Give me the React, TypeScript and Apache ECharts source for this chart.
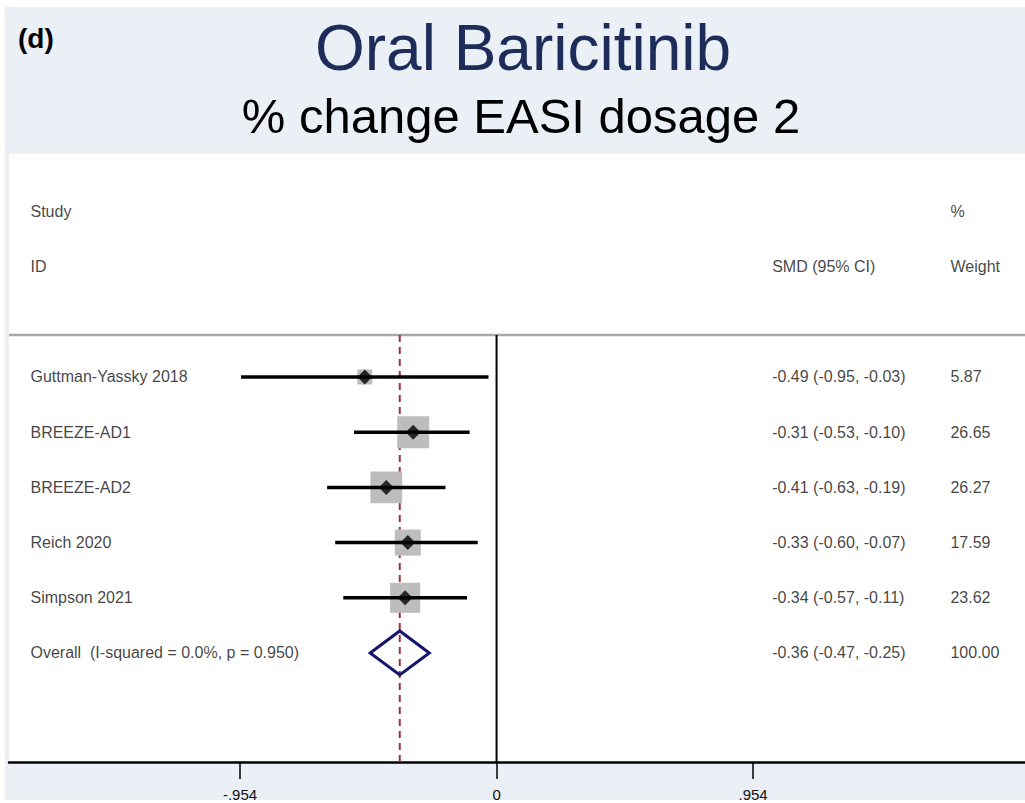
import React, { useEffect, useRef } from 'react';
import * as echarts from 'echarts';

// ---- data ----
const studies = ['Guttman-Yassky 2018', 'BREEZE-AD1', 'BREEZE-AD2', 'Reich 2020', 'Simpson 2021'];
const smd = [-0.49, -0.31, -0.41, -0.33, -0.34];
const lower = [-0.95, -0.53, -0.63, -0.60, -0.57];
const upper = [-0.03, -0.10, -0.19, -0.07, -0.11];
const weights = [5.87, 26.65, 26.27, 17.59, 23.62];
const overallLabel = 'Overall  (I-squared = 0.0%, p = 0.950)';
const overallSMD = -0.36;
const overallLower = -0.47;
const overallUpper = -0.25;
const overallWeight = 100.0;
const tickValues = [-0.954, 0, 0.954];
const tickLabels = ['-.954', '0', '.954'];
const headerStudy = ['Study', 'ID'];
const headerSMD = ['', 'SMD (95% CI)'];
const headerWeight = ['%', 'Weight'];

// ---- layout constants ----
const X_MIN = -1.813;
const X_MAX = 1.965;
const Y_MIN = -4.04;
const Y_MAX = 6.975;
const SEP_K = -0.761;
const COL_LABEL = -1.735;
const COL_SMD = 1.023;
const COL_WEIGHT = 1.686;
const FONT = '"Liberation Sans", Arial, Helvetica, sans-serif';

const fmt = (v: number) => v.toFixed(2);

export default function App() {
  const ref = useRef<HTMLDivElement>(null);

  useEffect(() => {
    if (!ref.current) return;
    const chart = echarts.init(ref.current, undefined, { renderer: 'svg' });

    const overallK = studies.length;
    const textLabel = (arr: any[]) => ({
      type: 'scatter',
      data: arr,
      symbol: 'circle',
      symbolSize: 1,
      itemStyle: { color: 'rgba(0,0,0,0)' },
      silent: true,
      z: 6,
      label: {
        show: true,
        position: 'right',
        distance: 0,
        align: 'left',
        verticalAlign: 'middle',
        formatter: (p: any) => p.data[2],
        color: '#111',
        fontSize: 16,
        fontFamily: FONT,
      },
      emphasis: { disabled: true },
    });

    const labelData: any[] = [];
    headerStudy.forEach((t, i) => t && labelData.push([COL_LABEL, -3 + i, t]));
    headerSMD.forEach((t, i) => t && labelData.push([COL_SMD, -3 + i, t]));
    headerWeight.forEach((t, i) => t && labelData.push([COL_WEIGHT, -3 + i, t]));
    studies.forEach((s, i) => {
      labelData.push([COL_LABEL, i, s]);
      labelData.push([COL_SMD, i, `${fmt(smd[i])} (${fmt(lower[i])}, ${fmt(upper[i])})`]);
      labelData.push([COL_WEIGHT, i, fmt(weights[i])]);
    });
    labelData.push([COL_LABEL, overallK, overallLabel]);
    labelData.push([COL_SMD, overallK, `${fmt(overallSMD)} (${fmt(overallLower)}, ${fmt(overallUpper)})`]);
    labelData.push([COL_WEIGHT, overallK, fmt(overallWeight)]);

    const vline = (color: string, dash: any, width: number) => (params: any, api: any) => {
      const p1 = api.coord([api.value(0), api.value(1)]);
      const p2 = api.coord([api.value(0), api.value(2)]);
      return {
        type: 'line',
        shape: { x1: p1[0], y1: p1[1], x2: p2[0], y2: p2[1] },
        style: { stroke: color, lineWidth: width, lineDash: dash },
      };
    };

    const option: any = {
      animation: false,
      backgroundColor: '#ffffff',
      graphic: [
        { type: 'rect', z: -100, silent: true, shape: { x: 5, y: 7, width: 1020, height: 793 }, style: { fill: '#eaf0f5' } },
        { type: 'rect', z: -99, silent: true, shape: { x: 9, y: 154, width: 1016, height: 608 }, style: { fill: '#ffffff' } },
        { type: 'text', z: 10, style: { text: '(d)', x: 18, y: 38, fontSize: 28, fontWeight: 'bold', fontFamily: FONT, fill: '#000', verticalAlign: 'middle' } },
        { type: 'text', z: 10, style: { text: 'Oral Baricitinib', x: 523, y: 48, fontSize: 64, fontFamily: FONT, fill: '#1e2c5a', align: 'center', verticalAlign: 'middle' } },
        { type: 'text', z: 10, style: { text: '% change EASI dosage 2', x: 521, y: 116, fontSize: 49, fontFamily: FONT, fill: '#000', align: 'center', verticalAlign: 'middle' } },
      ],
      grid: { left: 9, right: 0, top: 154, bottom: 41, containLabel: false },
      xAxis: {
        type: 'value',
        min: X_MIN,
        max: X_MAX,
        position: 'bottom',
        axisLine: { show: true, onZero: false, lineStyle: { color: '#000', width: 2.5 } },
        axisTick: { show: true, customValues: tickValues, length: 17, lineStyle: { color: '#000', width: 1.5 } },
        axisLabel: {
          show: true,
          customValues: tickValues,
          margin: 25,
          fontSize: 15,
          color: '#111',
          fontFamily: FONT,
          formatter: (v: number) => {
            let best = 0;
            tickValues.forEach((t, i) => { if (Math.abs(t - v) < Math.abs(tickValues[best] - v)) best = i; });
            return tickLabels[best];
          },
        },
        splitLine: { show: false },
      },
      yAxis: {
        type: 'value',
        inverse: true,
        min: Y_MIN,
        max: Y_MAX,
        show: false,
        splitLine: { show: false },
      },
      series: [
        {
          type: 'custom',
          name: 'separator',
          silent: true,
          z: 1,
          data: [[X_MIN, X_MAX, SEP_K]],
          renderItem: (params: any, api: any) => {
            const p1 = api.coord([api.value(0), api.value(2)]);
            const p2 = api.coord([api.value(1), api.value(2)]);
            return { type: 'line', shape: { x1: p1[0], y1: p1[1], x2: p2[0], y2: p2[1] }, style: { stroke: '#a8a8a8', lineWidth: 2.5 } };
          },
        },
        {
          type: 'custom',
          name: 'zero',
          silent: true,
          z: 1,
          data: [[0, SEP_K, Y_MAX]],
          renderItem: vline('#000', null, 2),
        },
        {
          type: 'custom',
          name: 'pooled',
          silent: true,
          z: 1,
          data: [[overallSMD, SEP_K, Y_MAX]],
          renderItem: vline('#a0303c', [7, 5], 2),
        },
        {
          type: 'custom',
          name: 'boxes',
          silent: true,
          z: 2,
          data: smd.map((v, i) => [v, i, weights[i]]),
          renderItem: (params: any, api: any) => {
            const c = api.coord([api.value(0), api.value(1)]);
            const side = 6.2 * Math.sqrt(api.value(2));
            return { type: 'rect', shape: { x: c[0] - side / 2, y: c[1] - side / 2, width: side, height: side }, style: { fill: '#bdbdbd' } };
          },
        },
        {
          type: 'custom',
          name: 'ci',
          silent: true,
          z: 3,
          data: lower.map((v, i) => [v, upper[i], i]),
          renderItem: (params: any, api: any) => {
            const p1 = api.coord([api.value(0), api.value(2)]);
            const p2 = api.coord([api.value(1), api.value(2)]);
            return { type: 'line', shape: { x1: p1[0], y1: p1[1], x2: p2[0], y2: p2[1] }, style: { stroke: '#000', lineWidth: 3.5 } };
          },
        },
        {
          type: 'scatter',
          name: 'points',
          silent: true,
          z: 4,
          symbol: 'diamond',
          symbolSize: [15, 15],
          itemStyle: { color: '#000' },
          data: smd.map((v, i) => [v, i]),
        },
        {
          type: 'custom',
          name: 'overall',
          silent: true,
          z: 4,
          data: [[overallSMD, overallLower, overallUpper, overallK]],
          renderItem: (params: any, api: any) => {
            const k = api.value(3);
            const c = api.coord([api.value(0), k]);
            const l = api.coord([api.value(1), k]);
            const r = api.coord([api.value(2), k]);
            const h = 22;
            return {
              type: 'polygon',
              shape: { points: [[l[0], c[1]], [c[0], c[1] - h], [r[0], c[1]], [c[0], c[1] + h]] },
              style: { fill: 'none', stroke: '#15166b', lineWidth: 3 },
            };
          },
        },
        textLabel(labelData),
      ],
    };

    chart.setOption(option);
    return () => chart.dispose();
  }, []);

  return <div ref={ref} style={{ position: 'fixed', left: 0, top: 0, width: 1025, height: 803 }} />;
}
